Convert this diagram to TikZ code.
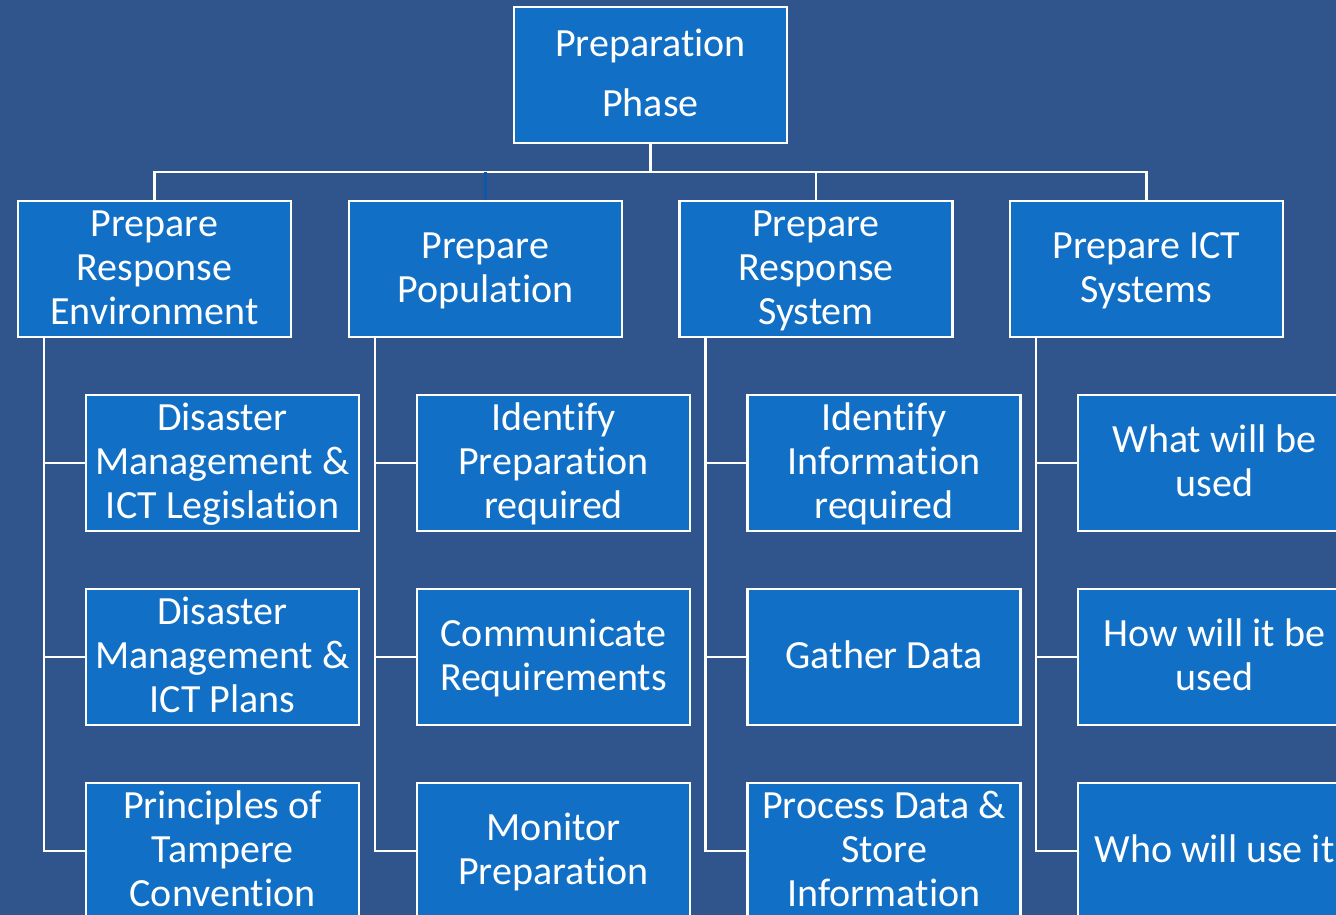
\documentclass[tikz,border=0pt]{standalone}
\usepackage{fontspec}
\setmainfont{Carlito}[Ligatures={NoCommon}]
\definecolor{bgblue}{RGB}{48,84,140}
\definecolor{boxblue}{RGB}{17,112,198}
\definecolor{darkline}{RGB}{14,88,165}
\begin{document}
\begin{tikzpicture}[x=1pt,y=-1pt,
  box/.style={draw=white, line width=2.5pt, fill=boxblue, minimum width=273pt,
    minimum height=136pt, inner sep=0pt, align=center, text=white,
    font=\fontsize{40}{44}\selectfont, text width=272pt,
    execute at begin node={\spaceskip=0.226em\relax\xspaceskip=0.226em\relax\rule{0pt}{33pt}},
    execute at end node={\rule[-10pt]{0pt}{0pt}}},
  conn/.style={draw=white, line width=2.5pt},
  darkconn/.style={draw=darkline, line width=2.5pt}]
\useasboundingbox (0,0) rectangle (1336,914);
\clip (0,0) rectangle (1336,914);
\fill[bgblue] (-5,-5) rectangle (1341,919);
% top
\node[box] (top) at (650.5,75) {Preparation\\[16pt]Phase};
% level 1
\node[box] (l1a) at (154.5,269) {Prepare\\Response\\Environment};
\node[box] (l1b) at (485.5,269) {Prepare\\Population};
\node[box] (l1c) at (816,269) {Prepare\\Response\\System};
\node[box] (l1d) at (1146.5,269) {Prepare ICT\\Systems};
% level 2
\node[box] (a1) at (222.5,463) {Disaster\\Management \&\\ICT Legislation};
\node[box] (a2) at (222.5,657) {Disaster\\Management \&\\ICT Plans};
\node[box] (a3) at (222.5,851) {Principles of\\Tampere\\Convention};
\node[box] (b1) at (553.5,463) {Identify\\Preparation\\required};
\node[box] (b2) at (553.5,657) {Communicate\\Requirements};
\node[box] (b3) at (553.5,851) {Monitor\\Preparation};
\node[box] (c1) at (884,463) {Identify\\Information\\required};
\node[box] (c2) at (884,657) {Gather Data};
\node[box] (c3) at (884,851) {Process Data \&\\Store\\Information};
\node[box] (d1) at (1214.5,463) {What will be\\used};
\node[box] (d2) at (1214.5,657) {How will it be\\used};
\node[box] (d3) at (1214.5,851) {Who will use it};
% top connectors
\coordinate (bus) at (650.5,172);
\draw[conn] (top.south) -- (bus);
\draw[conn] (l1a.north) |- (bus) -| (l1d.north);
\draw[conn] (l1c.north) -- (l1c.north |- bus);
\draw[darkconn] (l1b.north) -- (l1b.north |- bus);
% spines
\foreach \p/\q in {l1a/a, l1b/b, l1c/c, l1d/d}{
  \coordinate (s\q) at ([xshift=27pt]\p.south west);
  \draw[conn] (s\q) |- (\q3.west);
  \draw[conn] (\q1.west) -- (\q1.west -| s\q);
  \draw[conn] (\q2.west) -- (\q2.west -| s\q);
}
\end{tikzpicture}
\end{document}
